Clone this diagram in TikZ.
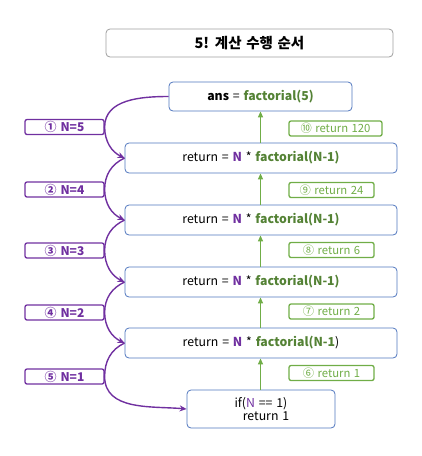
\documentclass[tikz,border=0pt]{standalone}
\usepackage{fontspec}
\setmainfont{Noto Sans CJK KR}[WordSpace=1.4]
\usetikzlibrary{arrows.meta}
\definecolor{callpurple}{RGB}{112,48,160}
\definecolor{retgreen}{RGB}{112,173,71}
\definecolor{fngreen}{RGB}{84,130,53}
\definecolor{boxblue}{RGB}{80,118,190}
\newcommand{\nvar}{\textcolor{callpurple}{\textbf{N}}}
\newcommand{\fcall}{\textcolor{fngreen}{\textbf{factorial(N-1)}}}

\begin{document}
\begin{tikzpicture}[x=1pt, y=-1pt, font=\fontsize{12.3}{14}\selectfont,
    every node/.style={inner sep=0pt},
    titlebox/.style={draw=black!38, line width=0.8pt, rounded corners=4pt, minimum width=287pt, minimum height=28pt, font=\fontsize{14.5}{16}\selectfont\bfseries},
    codebox/.style={draw=boxblue, line width=0.8pt, rounded corners=4pt, minimum width=272pt, minimum height=30pt},
    callbox/.style={draw=callpurple, line width=1.3pt, rounded corners=2pt, minimum width=79pt, minimum height=15pt, text=callpurple, font=\fontsize{12}{14}\selectfont\bfseries},
    retbox/.style={draw=retgreen, line width=1.3pt, rounded corners=2pt, minimum width=85pt, minimum height=15pt, text=retgreen, font=\fontsize{11.3}{13}\selectfont},
    call/.style={draw=callpurple, line width=1.4pt, -{Stealth[length=7pt,width=6pt]}},
    ret/.style={draw=retgreen, line width=1.3pt, -{Triangle[length=6pt,width=5pt]}}]
  \useasboundingbox (0,0) rectangle (422,456);
  \node[titlebox] (title) at (249.5,43) {5! 계산 수행 순서};

  % call chain
  \node[codebox, minimum width=183pt, minimum height=29pt] (ans) at (260.5,96.5) {\textbf{ans} = \textcolor{fngreen}{\textbf{factorial(5)}}};
  \node[codebox] (r1) at (261,158) {return = \nvar{} * \fcall};
  \node[codebox] (r2) at (261,220) {return = \nvar{} * \fcall};
  \node[codebox] (r3) at (261,282) {return = \nvar{} * \fcall};
  \node[codebox] (r4) at (261,343) {return = \nvar{} * \textcolor{fngreen}{\textbf{factorial(N-1}})};
  \node[codebox, minimum width=148pt, minimum height=38pt, align=center] (base) at (261,409) {if(\textcolor{callpurple}{N} == 1)\\[-1pt]\hspace*{10pt}return 1};

  \node[callbox] (n5) at (64.5,127) {① N=5};
  \node[callbox] (n4) at (64.5,189.5) {② N=4};
  \node[callbox] (n3) at (64.5,250.5) {③ N=3};
  \node[callbox] (n2) at (64.5,312.5) {④ N=2};
  \node[callbox] (n1) at (64.5,376.5) {⑤ N=1};

  \node[retbox, minimum width=93pt] (v120) at (335.5,128.5) {⑩ return 120};
  \node[retbox] (v24) at (331.5,190) {⑨ return 24};
  \node[retbox] (v6) at (331.5,250) {⑧ return 6};
  \node[retbox] (v2) at (331.5,311.5) {⑦ return 2};
  \node[retbox] (v1) at (331.5,373) {⑥ return 1};

  \draw[call] (ans.west) to[out=180, in=90] (n5.east) to[out=-90, in=155] (r1.west);
  \draw[call] (r1.west) to[out=205, in=90] (n4.east) to[out=-90, in=155] (r2.west);
  \draw[call] (r2.west) to[out=205, in=90] (n3.east) to[out=-90, in=155] (r3.west);
  \draw[call] (r3.west) to[out=205, in=90] (n2.east) to[out=-90, in=155] (r4.west);
  \draw[call] (r4.west) to[out=205, in=90] (n1.east) to[out=-90, in=175] (base.west);

  % returns
  \draw[ret] (base.north -| ans.south) -- (r4.south -| ans.south);
  \draw[ret] (r4.north -| ans.south) -- (r3.south -| ans.south);
  \draw[ret] (r3.north -| ans.south) -- (r2.south -| ans.south);
  \draw[ret] (r2.north -| ans.south) -- (r1.south -| ans.south);
  \draw[ret] (r1.north -| ans.south) -- (ans.south);
\end{tikzpicture}
\end{document}
